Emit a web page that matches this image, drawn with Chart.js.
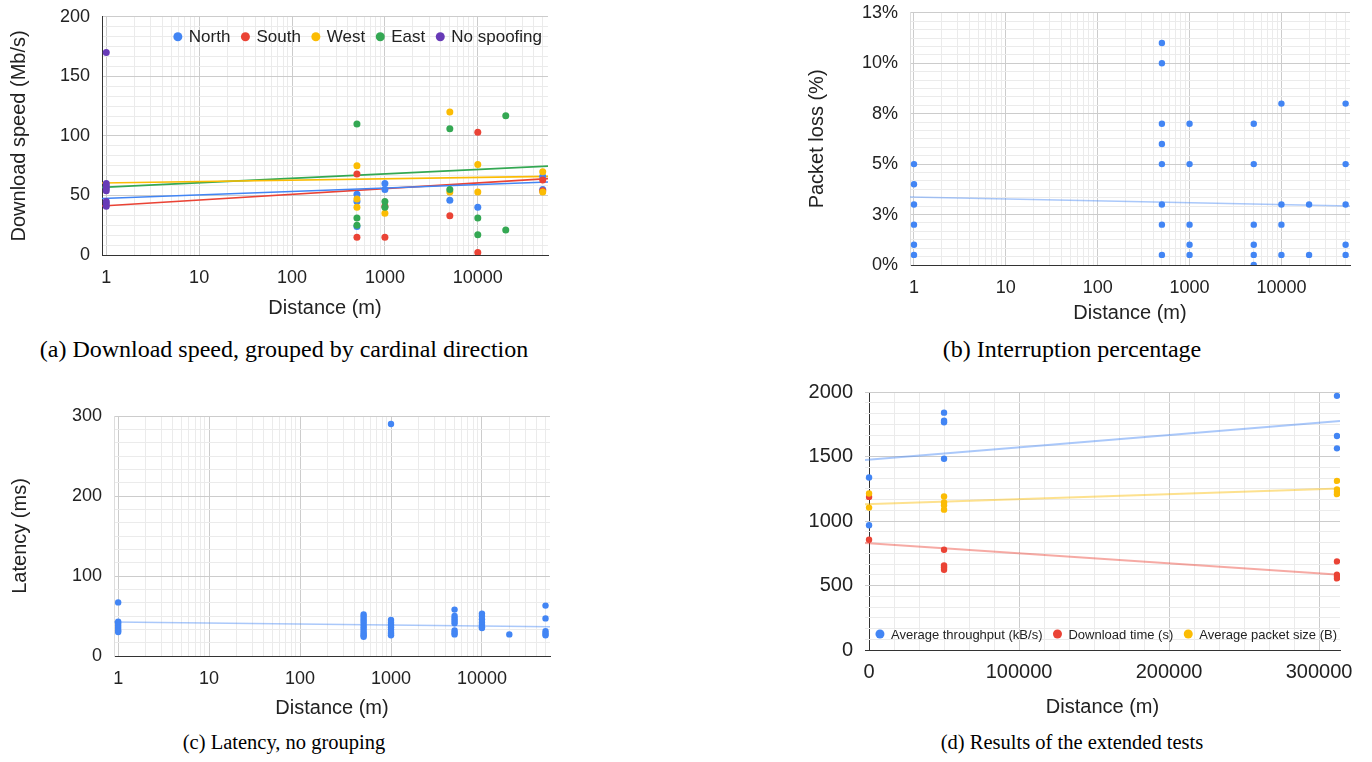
<!DOCTYPE html>
<html>
<head>
<meta charset="utf-8">
<script src="https://cdn.jsdelivr.net/npm/chart.js@4.4.1/dist/chart.umd.min.js"></script>
<style>
  body { margin: 0; background: #fff; width: 1372px; height: 762px; position: relative; overflow: hidden; }
  canvas { position: absolute; }
  .caption { position: absolute; width: 560px; text-align: center; white-space: nowrap;
             font-family: "Liberation Serif", "Times New Roman", serif; font-size: 20.5px; color: #000; }
  .top { font-size: 24px; }
</style>
</head>
<body>
<canvas id="chartA" width="560" height="329" style="left:0;top:-6px"></canvas>
<canvas id="chartB" width="602" height="338" style="left:770px;top:-10px"></canvas>
<canvas id="chartC" width="562" height="353" style="left:0;top:370px"></canvas>
<canvas id="chartD" width="602" height="354" style="left:770px;top:368px"></canvas>

<div class="caption top" style="left:4px;top:336px">(a) Download speed, grouped by cardinal direction</div>
<div class="caption top" style="left:792px;top:336px">(b) Interruption percentage</div>
<div class="caption" style="left:4px;top:731px">(c) Latency, no grouping</div>
<div class="caption" style="left:792px;top:731px">(d) Results of the extended tests</div>

<script>
// ---- (a) download speed per cardinal direction ----
const northDist = [500, 500, 500, 1000, 1000, 5000, 10000, 50000, 50000];
const northSpeed = [51, 45, 24, 60, 55, 46, 40, 66, 55];
const southDist = [500, 500, 1000, 1000, 5000, 10000, 10000, 50000, 50000];
const southSpeed = [68, 15, 41, 15, 33, 103, 2, 63, 54];
const westDist = [500, 500, 500, 1000, 5000, 5000, 10000, 10000, 50000, 50000];
const westSpeed = [75, 47, 40, 35, 120, 53, 76, 53, 70, 53];
const eastDist = [500, 500, 500, 1000, 1000, 5000, 5000, 10000, 10000, 20000, 20000];
const eastSpeed = [110, 31, 25, 45, 40, 106, 55, 31, 17, 117, 21];
const noSpoofDist = [1, 1, 1, 1, 1, 1, 1, 1];
const noSpoofSpeed = [170, 60, 58, 56, 54, 45, 43, 41];
// trendline end points (left edge, right edge of the plot)
const speedTrendDist = [0.9, 57000];
const northTrend = [47.4, 61.3];
const southTrend = [41.2, 64.1];
const westTrend = [60.4, 66];
const eastTrend = [56.8, 74.6];
const speedTicks = [0, 50, 100, 150, 200];

// ---- (b) packet loss ----
const lossDist = [1, 1, 1, 1, 1, 1,
  500, 500, 500, 500, 500, 500, 500, 500,
  1000, 1000, 1000, 1000, 1000,
  5000, 5000, 5000, 5000, 5000, 5000,
  10000, 10000, 10000, 10000,
  20000, 20000,
  50000, 50000, 50000, 50000, 50000];
const lossPct = [5, 4, 3, 2, 1, 0.5,
  11, 10, 7, 6, 5, 3, 2, 0.5,
  7, 5, 2, 1, 0.5,
  7, 5, 2, 1, 0.5, 0,
  8, 3, 2, 0.5,
  3, 0.5,
  8, 5, 3, 1, 0.5];
const lossTrendDist = [0.905, 55800];
const lossTrend = [3.37, 2.92];
const lossTicks = [0, 2.5, 5, 7.5, 10, 12.5];
const lossTickLabels = ['0%', '3%', '5%', '8%', '10%', '13%'];

// ---- (c) latency ----
const latencyDist = [1, 1, 1, 1, 1, 1, 1,
  500, 500, 500, 500, 500, 500, 500, 500, 500, 500, 500,
  1000, 1000, 1000, 1000, 1000, 1000, 1000, 1000, 1000,
  5000, 5000, 5000, 5000, 5000, 5000, 5000, 5000,
  10000, 10000, 10000, 10000, 10000, 10000, 10000,
  20000,
  50000, 50000, 50000, 50000, 50000];
const latencyMs = [67, 43, 41, 38, 35, 32, 30,
  52, 49, 46, 43, 40, 37, 34, 31, 28, 26, 24,
  290, 45, 42, 39, 36, 33, 30, 28, 26,
  58, 50, 47, 44, 41, 32, 29, 27,
  53, 50, 46, 42, 39, 36, 35,
  27,
  63, 47, 31, 28, 26];
const latencyTrendDist = [0.9, 56000];
const latencyTrend = [42.5, 36.5];
const latencyTicks = [0, 100, 200, 300];

// ---- (d) extended tests ----
const throughputDist = [0, 0, 50000, 50000, 50000, 50000, 312000, 312000, 312000];
const throughput = [1337, 967, 1840, 1778, 1765, 1482, 1970, 1659, 1563];
const dlTimeDist = [0, 0, 50000, 50000, 50000, 50000, 312000, 312000, 312000, 312000];
const dlTime = [1187, 855, 777, 656, 640, 622, 687, 583, 570, 555];
const pktSizeDist = [0, 0, 50000, 50000, 50000, 50000, 312000, 312000, 312000, 312000];
const pktSize = [1213, 1104, 1190, 1143, 1122, 1088, 1311, 1244, 1226, 1208];
const extTrendDist = [-2700, 314000];
const throughputTrend = [1472, 1775];
const dlTimeTrend = [829, 583];
const pktSizeTrend = [1130, 1252];
const extYTicks = [0, 500, 1000, 1500, 2000];
const extXTicks = [0, 100000, 200000, 300000];

const distTicks = [1, 10, 100, 1000, 10000];

const BLUE = '#4285f4', RED = '#ea4335', YELLOW = '#fbbc04', GREEN = '#34a853', PURPLE = '#673ab7';
const GRID_MAJOR = '#cccccc', GRID_MINOR = '#ebebeb';

Chart.defaults.font.family = '"Liberation Sans", Arial, sans-serif';
Chart.defaults.color = '#222';

function pts(xs, ys) {
    return xs.map((x, i) => ({ x: x, y: ys[i] }));
}

// gridlines at 1..9 x 10^k, only the decades get a label
function logTicks(min, max) {
    const out = [];
    for (let p = 1; p <= 100000; p *= 10) {
        for (let m = 1; m <= 9; m++) {
            const v = m * p;
            if (v >= min && v <= max) out.push({ value: v, text: distTicks.includes(v) ? String(v) : '' });
        }
    }
    return out;
}

// every major step is split in 6 for the light minor lines
function splitTicks(majors, labels) {
    const out = [];
    for (let i = 0; i < majors.length - 1; i++) {
        const step = (majors[i + 1] - majors[i]) / 6;
        for (let j = 0; j < 6; j++) {
            out.push({ value: majors[i] + j * step, text: j === 0 ? labels[i] : '' });
        }
    }
    out.push({ value: majors[majors.length - 1], text: labels[labels.length - 1] });
    return out;
}

const gridColor = c => (c.tick && c.tick.text) ? GRID_MAJOR : GRID_MINOR;

function distanceAxis(min, max, height) {
    return {
        type: 'logarithmic', min: min, max: max,
        afterBuildTicks: s => { s.ticks = logTicks(min, max); },
        afterFit: s => { s.height = height; },
        ticks: { autoSkip: false, maxRotation: 0, padding: 12, font: { size: 18 }, callback: (v, i, t) => t[i].text },
        grid: { drawTicks: false, color: gridColor },
        border: { color: '#333' },
        title: { display: true, text: 'Distance (m)', font: { size: 20 }, padding: { top: 0, bottom: 3 } }
    };
}

function valueAxis(majors, labels, width, title, titlePad, borderColor, size) {
    return {
        type: 'linear', min: majors[0], max: majors[majors.length - 1],
        afterBuildTicks: s => { s.ticks = splitTicks(majors, labels); },
        afterFit: s => { s.width = width; },
        ticks: { autoSkip: false, padding: 12, font: { size: size || 18 }, callback: (v, i, t) => t[i].text },
        grid: { drawTicks: false, color: gridColor },
        border: borderColor ? { color: borderColor } : { display: false },
        title: title ? { display: true, text: title, font: { size: 20 }, padding: { top: titlePad, bottom: 0 } } : { display: false }
    };
}

function dots(label, xs, ys, color, radius, order) {
    return { label: label, data: pts(xs, ys), backgroundColor: color, borderColor: color,
             borderWidth: 0, pointRadius: radius, order: order };
}

function trend(xs, ys, color, width) {
    return { data: pts(xs, ys), showLine: true, borderColor: color, borderWidth: width,
             pointRadius: 0, order: 10 };
}

// legend drawn inside the plot area, like the spreadsheet export
const insideLegend = {
    id: 'insideLegend',
    afterDatasetsDraw(chart, args, opts) {
        const ctx = chart.ctx, area = chart.chartArea;
        const items = chart.data.datasets.filter(d => d.label);
        ctx.save();
        ctx.font = opts.size + 'px "Liberation Sans", Arial, sans-serif';
        const widths = items.map(d => ctx.measureText(d.label).width);
        const total = widths.reduce((a, w) => a + opts.toText + w, 0) + opts.gap * (items.length - 1);
        let cx = opts.align === 'right' ? area.right - opts.edge - total : (area.left + area.right - total) / 2;
        const y = opts.side === 'top' ? area.top + opts.dy : area.bottom - opts.dy;
        ctx.textBaseline = 'middle';
        items.forEach((d, i) => {
            ctx.fillStyle = d.backgroundColor;
            ctx.beginPath();
            ctx.arc(cx, y, opts.radius, 0, Math.PI * 2);
            ctx.fill();
            ctx.fillStyle = '#222';
            ctx.fillText(d.label, cx + opts.toText, y + 1);
            cx += opts.toText + widths[i] + opts.gap;
        });
        ctx.restore();
    }
};

function baseOptions(pad, scales, legend) {
    return {
        responsive: false, animation: false, devicePixelRatio: 1,
        layout: { padding: pad },
        plugins: { legend: { display: false }, tooltip: { enabled: false }, insideLegend: legend || false },
        scales: scales
    };
}

// (a)
new Chart(document.getElementById('chartA'), {
    type: 'scatter',
    data: {
        datasets: [
            dots('North', northDist, northSpeed, BLUE, 3.5, 5),
            dots('South', southDist, southSpeed, RED, 3.5, 4),
            dots('West', westDist, westSpeed, YELLOW, 3.5, 3),
            dots('East', eastDist, eastSpeed, GREEN, 3.5, 2),
            dots('No spoofing', noSpoofDist, noSpoofSpeed, PURPLE, 3.5, 1),
            trend(speedTrendDist, northTrend, BLUE, 1.6),
            trend(speedTrendDist, southTrend, RED, 1.6),
            trend(speedTrendDist, westTrend, YELLOW, 1.6),
            trend(speedTrendDist, eastTrend, GREEN, 1.6)
        ]
    },
    options: baseOptions({ top: 0, right: 12, left: 0, bottom: 0 }, {
        x: distanceAxis(0.9, 57000, 68),
        y: valueAxis(speedTicks, speedTicks.map(String), 102, 'Download speed (Mb/s)', 7, '#333')
    }, { size: 17, radius: 4.5, toText: 11, gap: 15, align: 'right', edge: 6, side: 'top', dy: 20 }),
    plugins: [insideLegend]
});

// (b)
new Chart(document.getElementById('chartB'), {
    type: 'scatter',
    data: {
        datasets: [
            dots('Packet loss', lossDist, lossPct, BLUE, 3.2, 1),
            trend(lossTrendDist, lossTrend, 'rgba(66,133,244,0.45)', 1.5)
        ]
    },
    options: baseOptions({ top: 0, right: 22, left: 35, bottom: 0 }, {
        x: distanceAxis(0.905, 55800, 63),
        y: valueAxis(lossTicks, lossTickLabels, 105, 'Packet loss (%)', 0, '#dddddd')
    })
});

// (c)
new Chart(document.getElementById('chartC'), {
    type: 'scatter',
    data: {
        datasets: [
            dots('Latency', latencyDist, latencyMs, BLUE, 3.2, 1),
            trend(latencyTrendDist, latencyTrend, 'rgba(66,133,244,0.45)', 1.5)
        ]
    },
    options: baseOptions({ top: 46, right: 12, left: 0, bottom: 0 }, {
        x: distanceAxis(0.9, 56000, 67),
        y: valueAxis(latencyTicks, latencyTicks.map(String), 114, 'Latency (ms)', 8, '#dddddd')
    })
});

// (d)
const extX = valueAxis(extXTicks, extXTicks.map(String), 0, null, 0, '#333', 20);
extX.min = -2700;
extX.max = 314000;
extX.afterFit = s => { s.height = 72; };
extX.ticks.maxRotation = 0;
extX.ticks.padding = 10;
extX.grid.color = c => (c.tick && c.tick.value === 0) ? '#333' : gridColor(c);
extX.title = { display: true, text: 'Distance (m)', font: { size: 20 }, padding: { top: 0, bottom: 3 } };

new Chart(document.getElementById('chartD'), {
    type: 'scatter',
    data: {
        datasets: [
            dots('Average throughput (kB/s)', throughputDist, throughput, BLUE, 3.2, 3),
            dots('Download time (s)', dlTimeDist, dlTime, RED, 3.2, 2),
            dots('Average packet size (B)', pktSizeDist, pktSize, YELLOW, 3.2, 1),
            trend(extTrendDist, throughputTrend, 'rgba(66,133,244,0.45)', 2),
            trend(extTrendDist, dlTimeTrend, 'rgba(234,67,53,0.45)', 2),
            trend(extTrendDist, pktSizeTrend, 'rgba(251,188,4,0.45)', 2)
        ]
    },
    options: baseOptions({ top: 0, right: 32, left: 0, bottom: 0 }, {
        x: extX,
        y: valueAxis(extYTicks, extYTicks.map(String), 95, null, 0, null, 20)
    }, { size: 13, radius: 4.5, toText: 11, gap: 15, align: 'right', edge: 3, side: 'bottom', dy: 16 }),
    plugins: [insideLegend]
});
</script>
</body>
</html>
